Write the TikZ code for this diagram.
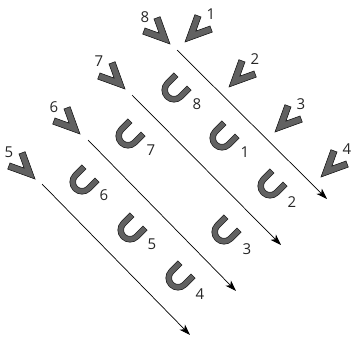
\documentclass[tikz,border=0pt]{standalone}
\usepackage{fontspec}
\setmainfont{Open Sans}
\usetikzlibrary{arrows.meta}
\begin{document}
\begin{tikzpicture}[x=1pt,y=1pt,
  glyph/.style={fill=black!62, draw=black!90, line width=0.6pt, line join=miter},
  num/.style={font=\fontsize{15}{15}\selectfont, text=black!85, inner sep=0pt},
  lane/.style={line width=0.7pt, -{Stealth[length=11pt,width=7.5pt,inset=3pt]}},
  % chevron, tip at the origin, opening upwards
  vee/.pic={\path[glyph] (0,0) -- (12.3,26.3) -- (6.4,29.0) -- (0,15.4)
      -- (-6.4,29.0) -- (-12.3,26.3) -- cycle;},
  % horseshoe, arc centre at the origin, opening upwards
  cup/.pic={\path[glyph] (-12.2,12) -- (-12.2,0)
      arc[start angle=180,end angle=360,radius=12.2] -- (12.2,12) -- (6.4,12)
      -- (6.4,0) arc[start angle=0,end angle=-180,radius=6.4] -- (-6.4,12) -- cycle;}
]
\useasboundingbox (0,0) rectangle (351,338);

% lanes
\coordinate (a0) at (177,288); \coordinate (a1) at (327,139);
\coordinate (b0) at (132,243); \coordinate (b1) at (281,93);
\coordinate (c0) at (88,198);  \coordinate (c1) at (236,47);
\coordinate (d0) at (42,154);  \coordinate (d1) at (190,3);
\draw[lane] (a0) -- (a1);
\draw[lane] (b0) -- (b1);
\draw[lane] (c0) -- (c1);
\draw[lane] (d0) -- (d1);

% left-hand chevrons
\pic[rotate=45] at (170,294) {vee};
\pic[rotate=45] at (125,249) {vee};
\pic[rotate=45] at (80,204) {vee};
\pic[rotate=45] at (35,159) {vee};
\node[num] (l8) at (145,321) {8};
\node[num] (l7) at (99,277) {7};
\node[num] (l6) at (54,231) {6};
\node[num] (l5) at (9,186) {5};

% right-hand chevrons
\pic[rotate=-45] at (185,296) {vee};
\pic[rotate=-45] at (229,251) {vee};
\pic[rotate=-45] at (275,206) {vee};
\pic[rotate=-45] at (321,161) {vee};
\node[num] (r1) at (211,324) {1};
\node[num] (r2) at (255,279) {2};
\node[num] (r3) at (301,234) {3};
\node[num] (r4) at (347,189) {4};

% horseshoes with their indices
\pic[rotate=-45] at (174,248) {cup};
\pic[rotate=-45] at (222,200) {cup};
\pic[rotate=-45] at (270,152) {cup};
\pic[rotate=-45] at (128,202) {cup};
\pic[rotate=-45] at (224,106) {cup};
\pic[rotate=-45] at (82,156) {cup};
\pic[rotate=-45] at (130,108) {cup};
\pic[rotate=-45] at (178,60) {cup};
\node[num] (u8) at (197,234) {8};
\node[num] (u1) at (245,186) {1};
\node[num] (u2) at (292,136) {2};
\node[num] (u7) at (151,188) {7};
\node[num] (u3) at (247,89) {3};
\node[num] (u6) at (104,143) {6};
\node[num] (u5) at (152,94) {5};
\node[num] (u4) at (200,44) {4};
\end{tikzpicture}
\end{document}
